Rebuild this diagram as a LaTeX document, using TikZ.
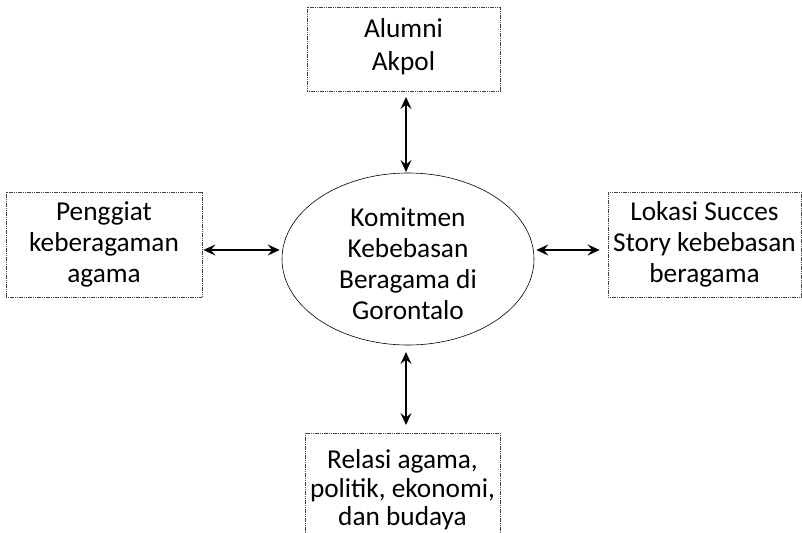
\documentclass[tikz,border=0pt]{standalone}
\usepackage{fontspec}
\setmainfont{Carlito}
\usetikzlibrary{arrows.meta,shapes.geometric}
\begin{document}
\begin{tikzpicture}[x=1pt,y=-1pt,
  every node/.style={font=\fontsize{27.3}{31}\selectfont, align=center, inner sep=0pt},
  boxstyle/.style={draw=black!75, line width=0.7pt, dash pattern=on 1.2pt off 0.6pt, rectangle},
  ellstyle/.style={draw=black, line width=0.6pt, ellipse},
  link/.style={line width=1.5pt, {Stealth[length=12pt,width=11pt,inset=4.5pt]}-{Stealth[length=12pt,width=11pt,inset=4.5pt]}}]
\useasboundingbox (0,0) rectangle (802,532);
\clip (0,0) rectangle (802,532);
\node[boxstyle, minimum width=193pt, minimum height=84pt, font=\fontsize{27.3}{33}\selectfont] (top) at (403.5,49) {Alumni\\Akpol\rule[-9pt]{0pt}{9pt}};
\node[boxstyle, minimum width=196pt, minimum height=105pt] (left) at (104,244.5) {Penggiat\\keberagaman\\agama};
\node[boxstyle, minimum width=193pt, minimum height=105pt] (right) at (704.5,244.5) {Lokasi Succes\\Story kebebasan\\beragama};
\node[boxstyle, minimum width=195pt, minimum height=114pt, font=\fontsize{27.3}{28.5}\selectfont] (bottom) at (402.5,490) {Relasi agama,\\politik, ekonomi,\\dan budaya};
\node[ellstyle, minimum width=252pt, minimum height=172pt] (ell) at (408,259) {};
\node (elltext) at (408,264) {Komitmen\\Kebebasan\\Beragama di\\Gorontalo};
\coordinate (tA) at (406,97);
\coordinate (tB) at (406,172);
\draw[link] (tA) -- (tB);
\draw[link, shorten <=1pt, shorten >=2pt] (left.east |- 0,250) -- (ell.west |- 0,250);
\draw[link, shorten <=2pt, shorten >=8pt] (ell.east |- 0,250) -- (right.west |- 0,250);
\coordinate (bA) at (406,352);
\coordinate (bB) at (406,425);
\draw[link] (bA) -- (bB);
\end{tikzpicture}
\end{document}
